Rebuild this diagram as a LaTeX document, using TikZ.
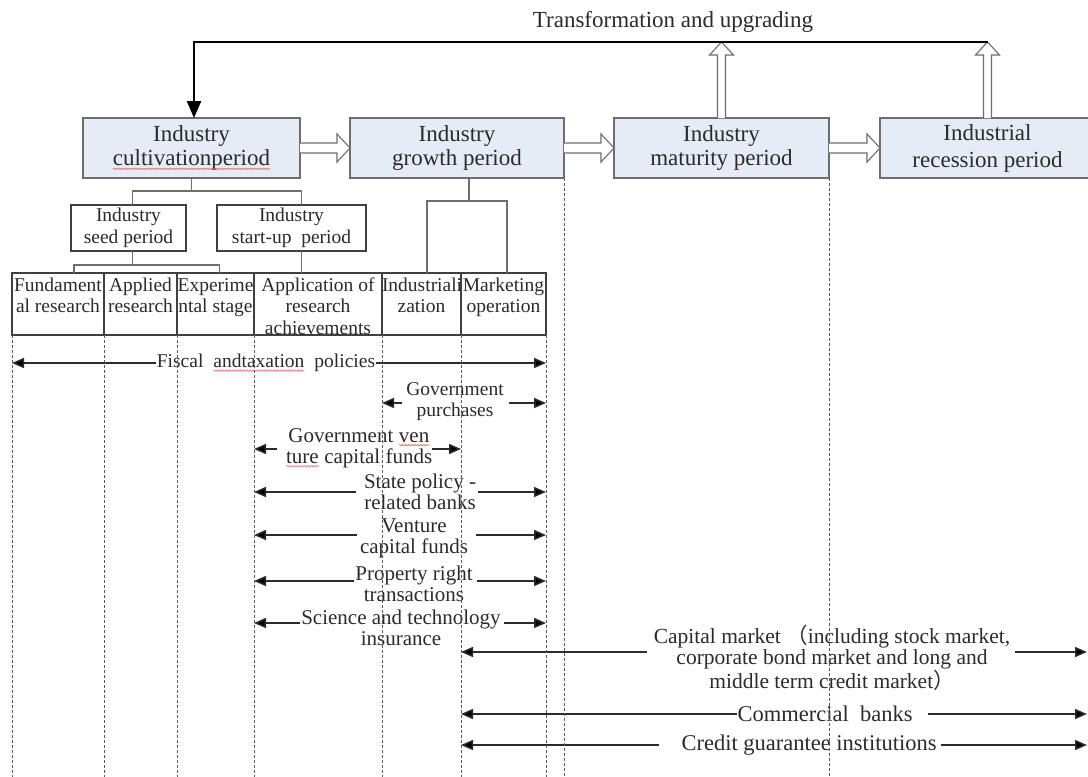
\documentclass[tikz,border=0pt]{standalone}
\usepackage{fontspec}
\setmainfont{Liberation Serif}
\newfontfamily\cjk{Noto Sans CJK SC}
\usetikzlibrary{arrows.meta,calc,decorations.pathmorphing}
\definecolor{boxfill}{HTML}{E5ECF6}
\definecolor{boxline}{HTML}{6E6E6E}
\definecolor{ink}{HTML}{2B2B2B}
\definecolor{cellline}{HTML}{404040}
\definecolor{dashc}{HTML}{5A5A5A}
\definecolor{wavec}{HTML}{E06868}
\newcommand{\rw}[1]{\tikz[baseline=(w.base)]{\node[inner sep=0pt,outer sep=0pt,minimum width=0pt,minimum height=0pt,anchor=base,draw=none,fill=none] (w) {#1};\draw[wavec,line width=0.6pt,decorate,decoration={snake,amplitude=0.7pt,segment length=3pt}] ([yshift=-3pt]w.base west) -- ([yshift=-3pt]w.base east);}}
\newcommand{\hollowH}[2]{\draw[hollow] ($(#1.east)+(0,-5)$) -- ($(#2.west)+(-13,-5)$) -- ($(#2.west)+(-13,-14)$) -- (#2.west) -- ($(#2.west)+(-13,14)$) -- ($(#2.west)+(-13,5)$) -- ($(#1.east)+(0,5)$);}
\newcommand{\hollowV}[2]{\draw[hollow] ($(#1.north)+(-4,0)$) -- ($(#2)+(-4,13)$) -- ($(#2)+(-12,13)$) -- (#2) -- ($(#2)+(12,13)$) -- ($(#2)+(4,13)$) -- ($(#1.north)+(4,0)$);}
\newcommand{\celltxt}[2]{\parbox[c][62pt][t]{#1pt}{\centering\rule{0pt}{18pt}#2}}
% #1 label node, #2 left gap, #3 right gap, #4 vertical shift (up), #5 left end node, #6 right end node
\newcommand{\twoarr}[6]{%
  \coordinate (#1L) at ([xshift=-#2pt,yshift=#4pt]#1.west);
  \coordinate (#1R) at ([xshift=#3pt,yshift=#4pt]#1.east);
  \draw[arr] (#1L) -- (#1L -| #5);
  \draw[arr] (#1R) -- (#1R -| #6);}
\begin{document}
\begin{tikzpicture}[x=1pt,y=-1pt,
  topbox/.style={draw=boxline, fill=boxfill, line width=1.1, inner sep=0, outer sep=0, anchor=north west, minimum height=60, align=center, font=\fontsize{23}{24.5}\selectfont, text=ink},
  subbox/.style={draw=cellline, line width=1.3, inner sep=0, outer sep=0, anchor=north west, minimum height=46, align=center, font=\fontsize{19.5}{21.5}\selectfont, text=ink},
  cell/.style={draw=cellline, line width=1.4, inner sep=0, outer sep=0, anchor=north west, font=\fontsize{19.5}{21.5}\selectfont, text=ink},
  lbl/.style={inner sep=0, outer sep=0, align=center, font=\fontsize{21}{21}\selectfont, text=ink},
  tree/.style={draw=boxline, line width=1.3},
  dashl/.style={draw=dashc, line width=0.9, dash pattern=on 3pt off 2pt},
  arr/.style={draw=ink, line width=1.5, -{Triangle[length=12pt,width=10pt]}},
  fb/.style={draw=black, line width=2.4, -{Triangle[length=17pt,width=14pt]}},
  hollow/.style={draw=boxline, line width=1.1, fill=white}]
\useasboundingbox (0,0) rectangle (1088,777);
\clip (0,0) rectangle (1088,777);
\fill[white] (0,0) rectangle (1088,777);

% title
\node[font=\fontsize{23}{25}\selectfont, text=ink] (title) at (673,22) {Transformation and upgrading};

% top boxes
\node[topbox, minimum width=217] (cult) at (83,118) {Industry\\\rw{cultivationperiod}};
\node[topbox, minimum width=214] (grow) at (350,118) {Industry\\growth period};
\node[topbox, minimum width=215] (mat) at (614,118) {Industry\\maturity period};
\node[topbox, minimum width=215, font=\fontsize{23}{27}\selectfont] (rec) at (880,118) {Industrial\\recession period};

\hollowH{cult}{grow}
\hollowH{grow}{mat}
\hollowH{mat}{rec}

\coordinate (tm) at (mat.north |- 0,42);
\coordinate (tr) at (rec.north |- 0,42);
\coordinate (tl) at (194,42);
\hollowV{mat}{tm}
\hollowV{rec}{tr}
\draw[fb] (tr) -- (tl) -- ([xshift=2.5pt]cult.north);

% second level
\node[subbox, minimum width=115] (seed) at (71,205) {Industry\\seed period};
\node[subbox, minimum width=149] (start) at (217,205) {Industry\\start-up\ \ period};

% cells
\node[cell] (fund) at (12,273) {\celltxt{92}{Fundament\\al research}};
\node[cell] (app) at (104,273) {\celltxt{73}{Applied\\research}};
\node[cell] (exp) at (177,273) {\celltxt{77}{Experime\\ntal stage}};
\node[cell] (appl) at (254,273) {\celltxt{128}{Application of\\research\\achievements}};
\node[cell] (ind) at (382,273) {\celltxt{79}{Industriali\\zation}};
\node[cell] (mkt) at (461,273) {\celltxt{85}{Marketing\\operation}};

% tree connectors
\draw[tree] (cult.south) -- ++(0,13) coordinate (cb);
\draw[tree] ([xshift=4pt]seed.north) |- (cb) -| ([xshift=10pt]start.north);
\draw[tree] ([xshift=4pt]seed.south) -- ++(0,14) coordinate (sb);
\draw[tree] ([xshift=16pt]fund.north) |- (sb) -| ([xshift=4pt]exp.north);
\draw[tree] ([xshift=10pt]start.south) -- ([xshift=10pt]start.south |- appl.north);
\draw[tree, line width=1.8] ([xshift=12pt]grow.south) -- ++(0,23) coordinate (gb);
\draw[tree, line width=1.8] ([xshift=5.5pt]ind.north) |- (gb) -| ([xshift=3.5pt]mkt.north);

% rows
\coordinate (R) at (1087,0);
\node[lbl, font=\fontsize{19.5}{21}\selectfont] (fis) at (266,363) {Fiscal\ \ \rw{andtaxation}\ \ policies};
\twoarr{fis}{1}{1}{0}{fund.west}{mkt.east}

\node[lbl, font=\fontsize{19.5}{21}\selectfont] (gp) at (455,402) {Government\\purchases};
\twoarr{gp}{4}{5}{-1}{ind.west}{mkt.east}

\node[lbl] (gv) at (359,448) {Government \rw{ven}\\\rw{ture} capital funds};
\twoarr{gv}{9}{0}{-1}{appl.west}{mkt.west}

\node[lbl] (sp) at (420,492) {State policy -\\related banks};
\twoarr{sp}{8}{2}{0}{appl.west}{mkt.east}

\node[lbl] (vc) at (414,538) {Venture\\capital funds};
\twoarr{vc}{3}{8}{3}{appl.west}{mkt.east}

\node[lbl] (pr) at (414,584) {Property right\\transactions};
\twoarr{pr}{1}{4}{3}{appl.west}{mkt.east}

\node[lbl] (st) at (401,628) {Science and technology\\insurance};
\twoarr{st}{1}{3}{5}{appl.west}{mkt.east}

\node[lbl, font=\fontsize{21.5}{21.5}\selectfont] (cap) at (832,658) {Capital market {\cjk （}including stock market,\\corporate bond market and long and\\middle term credit market{\cjk ）}};
\twoarr{cap}{7}{5}{6}{mkt.west}{R}

\node[lbl, font=\fontsize{22.5}{22.5}\selectfont] (cb2) at (825,714) {Commercial\ \ banks};
\twoarr{cb2}{1}{16}{0}{mkt.west}{R}

\node[lbl, font=\fontsize{22.5}{22.5}\selectfont] (cg) at (809,745) {Credit guarantee institutions};
\twoarr{cg}{23}{5}{0}{mkt.west}{R}

% dashed guides
\coordinate (bot) at (0,777);
\foreach \n/\a in {fund/south west, app/south west, exp/south west, appl/south west, ind/south west, mkt/south west, mkt/south east, grow/south east, mat/south east}
  \draw[dashl] (\n.\a) -- (\n.\a |- bot);
\end{tikzpicture}
\end{document}
